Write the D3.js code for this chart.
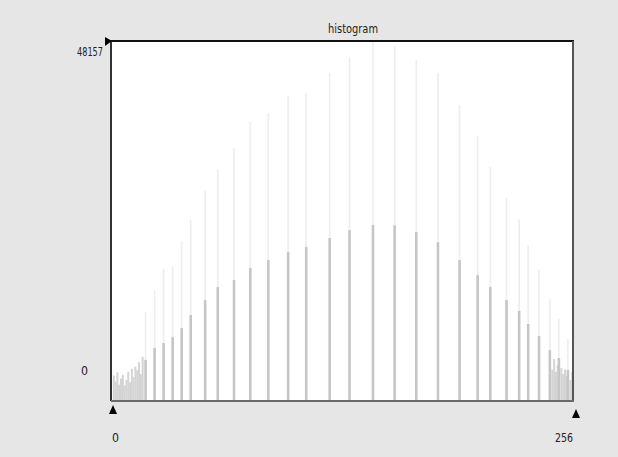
<!DOCTYPE html>
<html>
<head>
<meta charset="utf-8">
<script src="https://cdn.jsdelivr.net/npm/d3@7"></script>
<style>
  body { margin: 0; background: #e6e6e6; }
  svg text { font-family: "DejaVu Sans Condensed", "Liberation Sans", sans-serif; fill: #222; }
</style>
</head>
<body>
<div id="chart"></div>
<script>
var width = 618;
var height = 457;

// histogram: 256 grey levels, max count 48157
var maxCount = 48157;
var binCount = 256;

// main spikes: bin index, lower (dark) count, upper (faint) count
var spikeBins  = [19, 24, 29, 34, 39, 44, 52, 59, 68, 77, 87, 98, 108, 121, 132, 145, 157, 169, 181, 193, 203, 210, 219, 226, 231, 237, 243, 248, 253];
var spikeLow   = [5500, 7100, 7750, 8550, 9750, 11500, 13500, 15250, 16200, 17800, 18850, 19950, 20600, 21800, 22850, 23550, 23500, 22600, 21250, 18850, 16850, 15250, 13500, 12050, 10300, 8700, 6800, 5750, 4150];
var spikeHigh  = [11900, 14800, 17700, 18000, 21400, 24200, 28100, 31000, 33800, 37400, 38500, 40800, 41200, 43900, 46000, 48157, 47600, 45600, 43900, 39600, 35500, 31300, 27200, 24300, 20800, 17600, 13600, 11000, 8300];

// dense low bins at both ends
var edgeBins   = [1, 2, 3, 4, 5, 6, 7, 8, 9, 10, 11, 12, 13, 14, 15, 16, 17, 244, 245, 246, 247, 249, 250, 251, 252, 254, 255];
var edgeCounts = [3400, 2600, 3800, 2200, 3000, 3500, 2100, 2800, 3900, 2500, 4300, 3200, 4600, 4100, 5200, 3600, 5900, 4200, 5600, 3900, 4800, 4400, 3600, 4200, 3300, 2800, 3900];

var title = "histogram";
var yTickLabels = ["48157", "0"];
var xTickLabels = ["0", "256"];

var svg = d3.select("#chart").append("svg")
    .attr("width", width)
    .attr("height", height);

var plot = {left: 111, right: 573, top: 41, bottom: 401};

var x = d3.scaleLinear()
    .domain([0, binCount])
    .range([plot.left, plot.right]);

var y = d3.scaleLinear()
    .domain([0, maxCount])
    .range([plot.bottom, plot.top]);

svg.append("rect")
    .attr("x", plot.left)
    .attr("y", plot.top)
    .attr("width", plot.right - plot.left)
    .attr("height", plot.bottom - plot.top)
    .attr("fill", "#ffffff");

var edges = edgeBins.map((b, i) => ({bin: b, count: edgeCounts[i]}));
var spikes = spikeBins.map((b, i) => ({bin: b, low: spikeLow[i], high: spikeHigh[i]}));

svg.selectAll(".edge")
    .data(edges)
    .enter()
    .append("rect")
    .attr("class", "edge")
    .attr("x", d => x(d.bin))
    .attr("y", d => y(d.count))
    .attr("width", 2)
    .attr("height", d => plot.bottom - y(d.count))
    .attr("fill", "#d4d4d4");

svg.selectAll(".high")
    .data(spikes)
    .enter()
    .append("rect")
    .attr("class", "high")
    .attr("x", d => x(d.bin) - 0.5)
    .attr("y", d => y(d.high))
    .attr("width", 1.6)
    .attr("height", d => plot.bottom - y(d.high))
    .attr("fill", "#ededed");

svg.selectAll(".low")
    .data(spikes)
    .enter()
    .append("rect")
    .attr("class", "low")
    .attr("x", d => x(d.bin) - 1)
    .attr("y", d => y(d.low))
    .attr("width", 2.6)
    .attr("height", d => plot.bottom - y(d.low))
    .attr("fill", "#c6c6c6");

// frame
svg.append("line").attr("x1", plot.left - 1).attr("x2", plot.right + 1).attr("y1", plot.top).attr("y2", plot.top)
    .attr("stroke", "#111").attr("stroke-width", 2);
svg.append("line").attr("x1", plot.left).attr("x2", plot.left).attr("y1", plot.top).attr("y2", plot.bottom)
    .attr("stroke", "#333").attr("stroke-width", 2);
svg.append("line").attr("x1", plot.right).attr("x2", plot.right).attr("y1", plot.top).attr("y2", plot.bottom)
    .attr("stroke", "#555").attr("stroke-width", 2);
svg.append("line").attr("x1", plot.left).attr("x2", plot.right + 1).attr("y1", plot.bottom).attr("y2", plot.bottom)
    .attr("stroke", "#6a6a6a").attr("stroke-width", 2);

// title
svg.append("text")
    .attr("x", 353)
    .attr("y", 33)
    .attr("text-anchor", "middle")
    .attr("font-size", 13)
    .attr("textLength", 50)
    .attr("lengthAdjust", "spacingAndGlyphs")
    .text(title);

// y markers
svg.append("path")
    .attr("d", "M105,37 L112,41 L105,46 Z")
    .attr("fill", "#000");
svg.append("text")
    .attr("x", 77)
    .attr("y", 56)
    .attr("font-size", 13)
    .attr("textLength", 26)
    .attr("lengthAdjust", "spacingAndGlyphs")
    .text(yTickLabels[0]);
svg.append("text")
    .attr("x", 81)
    .attr("y", 375)
    .attr("font-size", 13)
    .attr("textLength", 7)
    .attr("lengthAdjust", "spacingAndGlyphs")
    .text(yTickLabels[1]);

// x markers
svg.append("path")
    .attr("d", "M113,405 L117,414 L109,414 Z")
    .attr("fill", "#000");
svg.append("path")
    .attr("d", "M576,409 L580,418 L572,418 Z")
    .attr("fill", "#000");
svg.append("text")
    .attr("x", 112)
    .attr("y", 442)
    .attr("font-size", 13)
    .attr("textLength", 7)
    .attr("lengthAdjust", "spacingAndGlyphs")
    .text(xTickLabels[0]);
svg.append("text")
    .attr("x", 555)
    .attr("y", 442)
    .attr("font-size", 13)
    .attr("textLength", 18)
    .attr("lengthAdjust", "spacingAndGlyphs")
    .text(xTickLabels[1]);
</script>
</body>
</html>
